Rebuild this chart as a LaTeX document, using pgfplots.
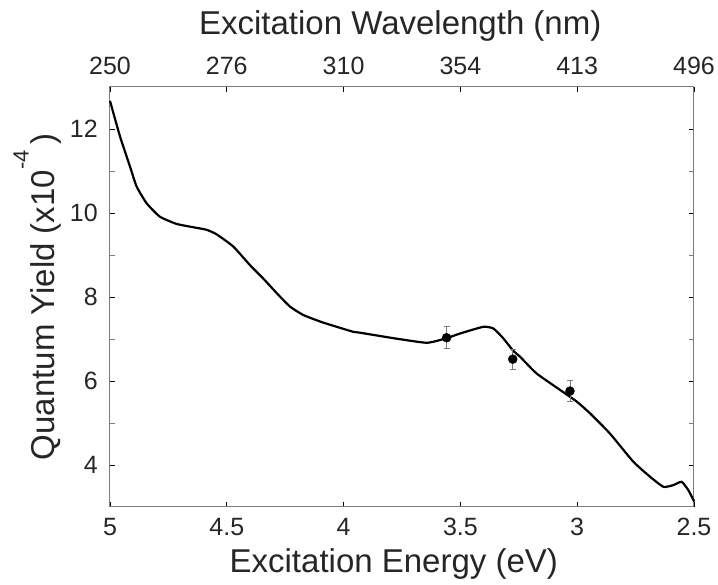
\documentclass[border=0pt]{standalone}
\usepackage{fontspec}
\setmainfont{Liberation Sans}
\usepackage{pgfplots}
\pgfplotsset{compat=1.18}
\definecolor{axgray}{RGB}{125,125,125}
\begin{document}
\begin{tikzpicture}
\useasboundingbox (-110pt,-78pt) rectangle (608pt,507pt);
\begin{axis}[
  at={(0,0)}, anchor=south west,
  scale only axis, width=584pt, height=420pt,
  x dir=reverse, xmin=2.5, xmax=5, ymin=3, ymax=13,
  xtick={2.5,3,3.5,4,4.5,5},
  xticklabels={2.5,3,3.5,4,4.5,5},
  ytick={4,6,8,10,12}, minor ytick={5,7,9,11},
  xtick pos=bottom, ytick pos=both,
  tick align=inside,
  major tick length=5pt, minor tick length=5pt,
  axis line style={axgray, line width=1pt},
  major tick style={black, line width=0.8pt},
  minor tick style={axgray, line width=0.8pt},
  /pgf/number format/assume math mode=true,
  tick label style={font=\fontsize{25}{28}\selectfont, inner sep=0pt, text=black!85},
  xticklabel style={yshift=-11pt},
  yticklabel style={xshift=-12pt},
  label style={font=\fontsize{33}{38}\selectfont, inner sep=0pt, text=black!85},
  xlabel={Excitation Energy (eV)},
  xlabel style={at={(axis description cs:0.486,-0.157)}, anchor=base},
  ylabel={Quantum Yield (x10\raisebox{0.8em}{\fontsize{22}{22}\selectfont -4}\,)},
  ylabel style={at={(axis description cs:-0.0942,0.5)}, anchor=base, rotate=0},
  clip=false,
]
\addplot[black, line width=2.2pt, smooth, tension=0.3] coordinates {
(5.000,12.67) (4.957,11.82) (4.914,11.10) (4.886,10.63) (4.843,10.23)
(4.786,9.91) (4.715,9.74) (4.643,9.66) (4.586,9.60) (4.543,9.49)
(4.472,9.20) (4.401,8.76) (4.344,8.44) (4.286,8.09) (4.229,7.77)
(4.172,7.57) (4.087,7.39) (3.958,7.17) (3.930,7.15) (3.787,7.02)
(3.644,6.91) (3.559,7.02) (3.502,7.13) (3.402,7.29) (3.359,7.25)
(3.317,7.02) (3.274,6.72) (3.245,6.58) (3.174,6.18) (3.074,5.79)
(3.002,5.51) (2.945,5.23) (2.860,4.75) (2.760,4.08) (2.688,3.72)
(2.631,3.48) (2.589,3.52) (2.553,3.60) (2.524,3.40) (2.499,3.13)
};
\addplot[only marks, mark=*, mark size=4.5pt, black,
  error bars/.cd, y dir=both, y explicit,
  error bar style={axgray, line width=0.8pt},
  error mark options={axgray, line width=0.8pt, mark size=3pt, rotate=90}]
  coordinates {
(3.559,7.03) +- (0,0.26)
(3.276,6.52) +- (0,0.24)
(3.031,5.76) +- (0,0.25)
};
\end{axis}
\begin{axis}[
  at={(0,0)}, anchor=south west,
  scale only axis, width=584pt, height=420pt,
  x dir=reverse, xmin=2.5, xmax=5, ymin=3, ymax=13,
  axis x line*=top, axis y line=none,
  xtick={2.5,3,3.5,4,4.5,5},
  xticklabels={496,413,354,310,276,250},
  tick align=inside,
  major tick length=5pt,
  axis line style={axgray, line width=1pt},
  major tick style={black, line width=0.8pt},
  tick label style={font=\fontsize{25}{28}\selectfont, inner sep=0pt, text=black!85},
  xticklabel style={anchor=base, yshift=12pt},
  label style={font=\fontsize{33}{38}\selectfont, inner sep=0pt, text=black!85},
  xlabel={Excitation Wavelength (nm)},
  xlabel style={at={(axis description cs:0.497,1.124)}, anchor=base},
]
\addplot[draw=none] coordinates {(3,5)};
\end{axis}
\end{tikzpicture}
\end{document}
